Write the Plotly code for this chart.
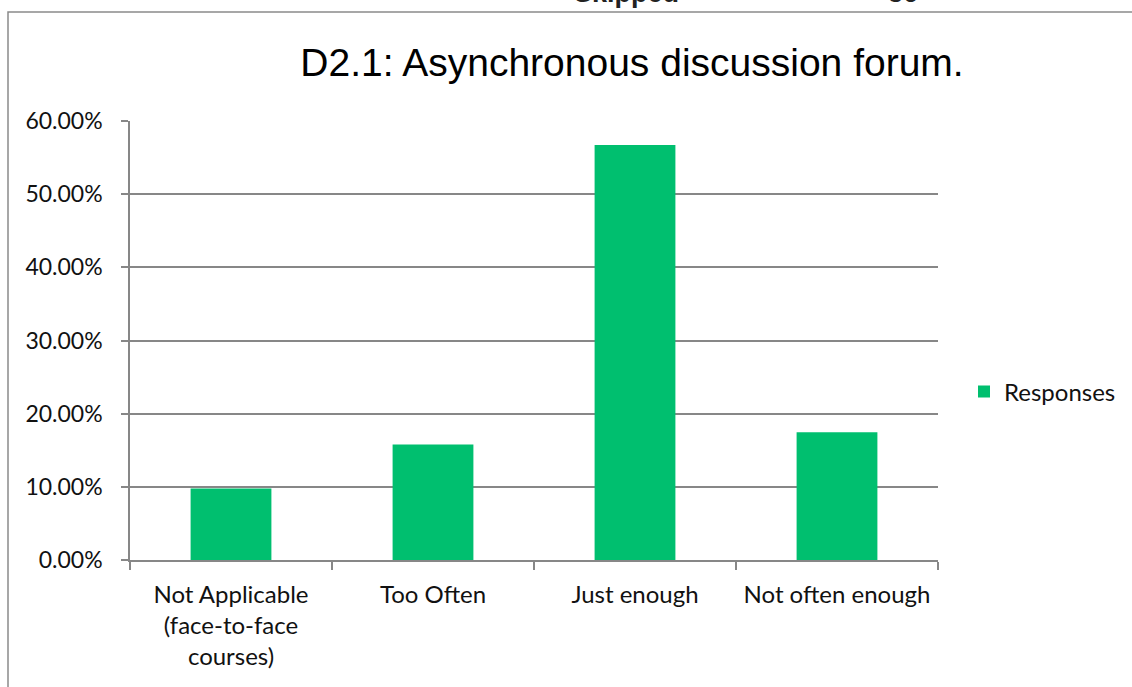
import plotly.graph_objects as go

categories = ["Not Applicable<br>(face-to-face<br>courses)", "Too Often", "Just enough", "Not often enough"]
responses = [0.0978, 0.1578, 0.5673, 0.1746]
y_ticks = [0, 0.1, 0.2, 0.3, 0.4, 0.5, 0.6]

W, H = 1132, 687
L, R, T, B = 130, 194, 121, 127
pw, ph = W - L - R, H - T - B

def px_x(x):
    return (x - L) / pw

def px_y(y):
    return (H - B - y) / ph

GRID = "#878787"
FONT = "Lato, Open Sans, sans-serif"
TXT = "#111111"

fig = go.Figure()
fig.add_trace(go.Bar(
    x=categories, y=responses, name="Responses",
    marker=dict(color="#00BF6F", line=dict(width=0)),
    showlegend=True,
))

fig.update_layout(
    width=W, height=H,
    margin=dict(l=L, r=R, t=T, b=B, autoexpand=False),
    paper_bgcolor="white", plot_bgcolor="white",
    bargap=0.6,
    title=dict(text="D2.1: Asynchronous discussion forum.",
               font=dict(family="Liberation Sans, Arial, sans-serif", size=39, color="black"),
               x=px_x(632), xref="paper", xanchor="center",
               y=(H - 62) / H, yanchor="middle"),
    font=dict(family=FONT, size=24, color=TXT),
    showlegend=True,
    legend=dict(x=px_x(964), xanchor="left", y=px_y(392), yanchor="middle",
                font=dict(family=FONT, size=24, color=TXT),
                bgcolor="rgba(0,0,0,0)", itemwidth=30),
    xaxis=dict(type="category", showgrid=False,
               showline=True, linecolor=GRID, linewidth=1.5,
               ticks="outside", tickson="boundaries", ticklen=8, tickcolor=GRID, tickwidth=1.5,
               tickfont=dict(family=FONT, size=24, color=TXT),
               ticklabelstandoff=12,
               fixedrange=True),
    yaxis=dict(range=[0, 0.6], tickvals=y_ticks, tickformat=".2%",
               showgrid=True, gridcolor=GRID, gridwidth=1.5,
               showline=True, linecolor=GRID, linewidth=1.5,
               ticks="outside", ticklen=7, tickcolor=GRID, tickwidth=1.5,
               tickfont=dict(family=FONT, size=23, color=TXT),
               ticklabelstandoff=14,
               zeroline=False, fixedrange=True),
    shapes=[dict(type="rect", xref="paper", yref="paper",
                 x0=px_x(8), x1=px_x(1200), y0=px_y(12), y1=px_y(760),
                 line=dict(color="#8a8a8a", width=1.5), fillcolor="rgba(0,0,0,0)", layer="below")],
    annotations=[
        dict(text="<b>Skipped</b>", xref="paper", yref="paper", x=px_x(572), xanchor="left",
             y=px_y(10), yanchor="bottom", showarrow=False,
             font=dict(family="Liberation Sans, Arial, sans-serif", size=27, color="#222222")),
        dict(text="<b>36</b>", xref="paper", yref="paper", x=px_x(920), xanchor="right",
             y=px_y(10), yanchor="bottom", showarrow=False,
             font=dict(family="Liberation Sans, Arial, sans-serif", size=27, color="#222222")),
    ],
)

fig.write_html("out.html", config={"displayModeBar": False},
               post_script="document.body.style.margin='0';")
